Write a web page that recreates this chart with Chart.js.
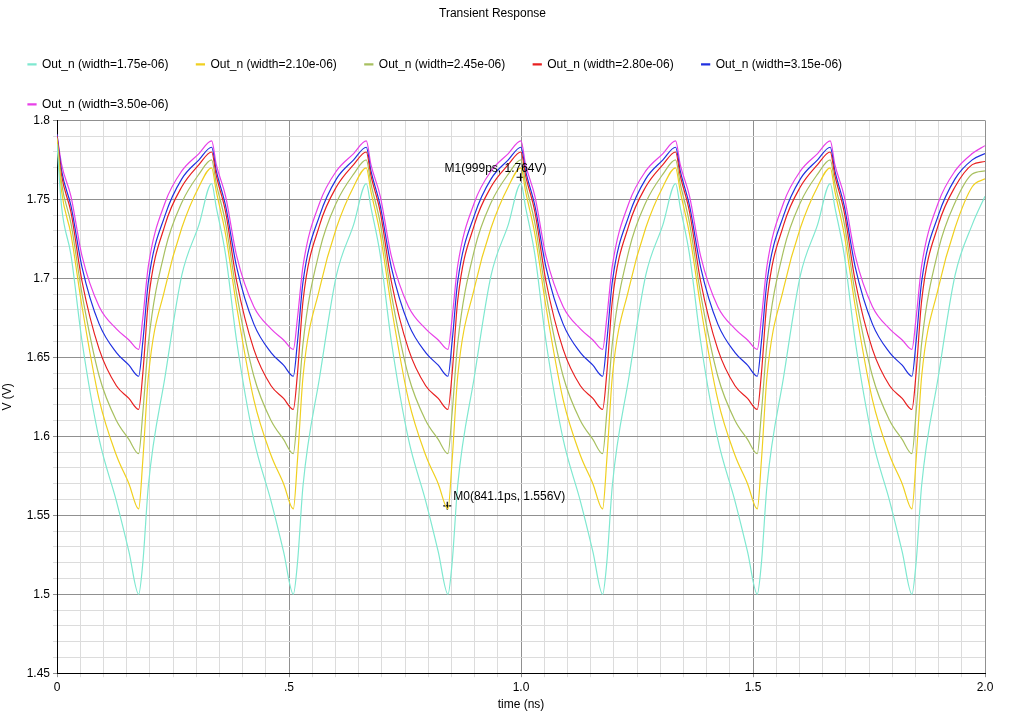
<!DOCTYPE html>
<html>
<head>
<meta charset="utf-8">
<script src="https://cdn.jsdelivr.net/npm/chart.js@4.4.0/dist/chart.umd.min.js"></script>
<style>
  body { margin: 0; background: #fff; }
  #wrap { width: 1024px; height: 718px; }
</style>
</head>
<body>
<div id="wrap"><canvas id="grafico" width="1024" height="718"></canvas></div>
<script>
// one period of the waveform (times relative to each peak, ns)
const PERIOD = 0.3333;
const CYCLES = 6;
const cycleTimes = [0, 0.01, 0.03, 0.054, 0.091, 0.128, 0.155, 0.176, 0.185, 0.197, 0.233, 0.269, 0.306];

const seriesNames = [
  "Out_n (width=1.75e-06)", "Out_n (width=2.10e-06)", "Out_n (width=2.45e-06)",
  "Out_n (width=2.80e-06)", "Out_n (width=3.15e-06)", "Out_n (width=3.50e-06)"
];
const seriesColors = ["#7fe8d0", "#f0d020", "#a8c060", "#e82020", "#2030e0", "#e840e8"];

const cyan    = [1.760, 1.745, 1.715, 1.660, 1.598, 1.559, 1.527, 1.500, 1.520, 1.569, 1.638, 1.702, 1.734];
const yellow  = [1.770, 1.755, 1.728, 1.682, 1.623, 1.588, 1.570, 1.554, 1.585, 1.638, 1.694, 1.732, 1.758];
const green   = [1.775, 1.760, 1.735, 1.690, 1.638, 1.610, 1.598, 1.589, 1.615, 1.659, 1.718, 1.748, 1.766];
const red     = [1.780, 1.765, 1.742, 1.698, 1.655, 1.632, 1.624, 1.617, 1.640, 1.686, 1.734, 1.758, 1.772];
const blue    = [1.783, 1.768, 1.746, 1.707, 1.671, 1.653, 1.645, 1.638, 1.660, 1.698, 1.740, 1.763, 1.775];
const magenta = [1.787, 1.772, 1.752, 1.714, 1.682, 1.668, 1.661, 1.655, 1.675, 1.708, 1.748, 1.768, 1.779];
const startValues = [1.785, 1.788, 1.789, 1.790, 1.791, 1.791];
const endValues   = [1.752, 1.763, 1.768, 1.774, 1.779, 1.784];
const cycleValues = [cyan, yellow, green, red, blue, magenta];

const markers = [
  { x: 0.8411, y: 1.556, label: "M0(841.1ps, 1.556V)", dx: 6, dy: -9, align: "left" },
  { x: 0.999, y: 1.764, label: "M1(999ps, 1.764V)", dx: 26, dy: -9, align: "right" }
];

const FONT = "'Liberation Sans', Arial, sans-serif";

function montarSerie(i) {
  const pts = [];
  for (let k = 0; k < CYCLES; k++) {
    cycleTimes.forEach((t, j) => {
      const v = (k === 0 && j === 0) ? startValues[i] : cycleValues[i][j];
      pts.push({ x: k * PERIOD + t, y: v });
    });
  }
  pts.push({ x: 2.0, y: endValues[i] });
  return pts;
}

const datasets = seriesNames.map((nome, i) => ({
  label: nome,
  data: montarSerie(i),
  borderColor: seriesColors[i],
  backgroundColor: seriesColors[i],
  borderWidth: 1.2,
  pointRadius: 0,
  cubicInterpolationMode: "monotone"
}));
datasets.push({
  label: "markers",
  data: markers.map(m => ({ x: m.x, y: m.y })),
  showLine: false,
  pointStyle: "cross",
  pointRadius: 4,
  borderColor: "#000",
  borderWidth: 1.2
});

const markerLabels = {
  id: "markerLabels",
  afterDatasetsDraw(chart) {
    const ctx = chart.ctx;
    const xs = chart.scales.x, ys = chart.scales.y;
    ctx.save();
    ctx.font = "12px " + FONT;
    ctx.fillStyle = "#000";
    markers.forEach(m => {
      ctx.textAlign = m.align;
      ctx.fillText(m.label, xs.getPixelForValue(m.x) + m.dx, ys.getPixelForValue(m.y) + m.dy);
    });
    ctx.restore();
  }
};

function isMult(v, step) {
  const r = Math.round(v / step);
  return Math.abs(v - r * step) < 1e-6;
}

new Chart(document.getElementById("grafico"), {
  type: "line",
  data: { datasets },
  plugins: [markerLabels],
  options: {
    responsive: false,
    animation: false,
    layout: { padding: { left: 0, right: 39, top: 0, bottom: 6 } },
    plugins: {
      title: {
        display: true, text: "Transient Response", color: "#000",
        font: { family: FONT, size: 12, weight: "normal" }, padding: { top: 6, bottom: 10 }
      },
      legend: {
        align: "start",
        labels: {
          color: "#000", boxWidth: 8, boxHeight: 1, padding: 28,
          font: { family: FONT, size: 12 },
          filter: item => item.text !== "markers"
        }
      },
      tooltip: { enabled: false }
    },
    scales: {
      x: {
        type: "linear", min: 0, max: 2.0,
        ticks: {
          stepSize: 0.05, autoSkip: false, maxRotation: 0, color: "#000",
          font: { family: FONT, size: 12 },
          callback: v => {
            if (!isMult(v, 0.5)) return "";
            if (Math.abs(v) < 1e-6) return "0";
            if (Math.abs(v - 0.5) < 1e-6) return ".5";
            return v.toFixed(1);
          }
        },
        grid: {
          color: c => isMult(c.tick.value, 0.5) ? "#909090" : "#dcdcdc",
          lineWidth: 1, tickLength: 4
        },
        border: { color: "#000" },
        title: { display: true, text: "time (ns)", color: "#000", font: { family: FONT, size: 12 }, padding: 0 }
      },
      y: {
        min: 1.45, max: 1.8,
        afterFit: s => { s.width = 57; },
        ticks: {
          stepSize: 0.01, autoSkip: false, color: "#000",
          font: { family: FONT, size: 12 },
          callback: v => isMult(v, 0.05) ? String(parseFloat(v.toFixed(2))) : ""
        },
        grid: {
          color: c => isMult(c.tick.value, 0.05) ? "#909090" : "#dcdcdc",
          lineWidth: 1, tickLength: 4
        },
        border: { color: "#000" },
        title: { display: true, text: "V (V)", color: "#000", font: { family: FONT, size: 12 }, padding: 0 }
      }
    }
  }
});
</script>
</body>
</html>
